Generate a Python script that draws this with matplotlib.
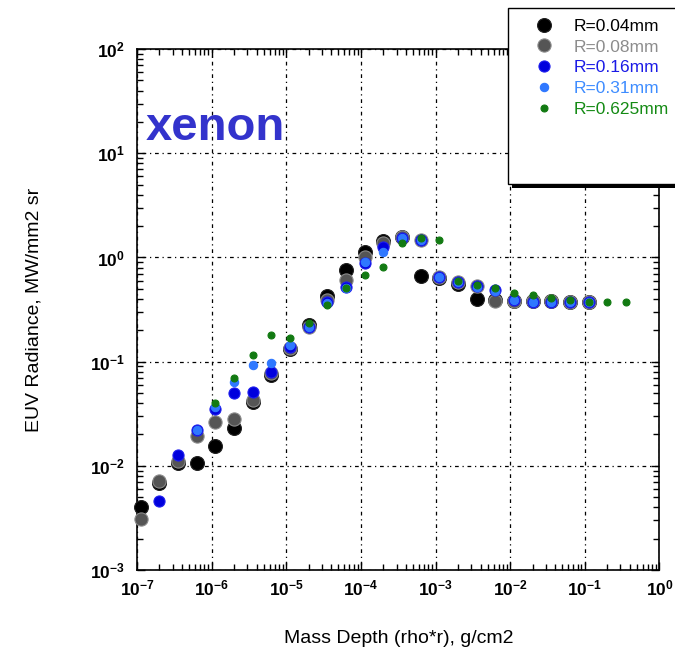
import numpy as np
import matplotlib
matplotlib.use('Agg')
import matplotlib.pyplot as plt
from matplotlib.patches import Rectangle
from matplotlib.ticker import LogLocator, FuncFormatter, NullFormatter

plt.rcParams['font.family'] = ['Liberation Sans', 'DejaVu Sans']
plt.rcParams['mathtext.fontset'] = 'custom'
plt.rcParams['mathtext.rm'] = 'Liberation Sans:bold'
plt.rcParams['mathtext.bf'] = 'Liberation Sans:bold'
plt.rcParams['mathtext.it'] = 'Liberation Sans:bold'

# mass depth (rho*r), g/cm2 -- common grid of the runs
mass_depth = [1.12e-7, 2.0e-7, 3.55e-7, 6.3e-7, 1.12e-6, 2.0e-6, 3.55e-6, 6.3e-6,
              1.12e-5, 2.0e-5, 3.55e-5, 6.3e-5, 1.12e-4, 2.0e-4, 3.55e-4, 6.3e-4,
              1.12e-3, 2.0e-3, 3.55e-3, 6.3e-3, 1.12e-2, 2.0e-2, 3.55e-2, 6.3e-2,
              1.12e-1, 2.0e-1, 3.55e-1]

# EUV radiance, MW/mm2 sr (first index into mass_depth, values)
r004_start = 0
r004 = [0.0040, 0.0068, 0.0106, 0.0106, 0.0155, 0.0231, 0.041, 0.074, 0.132, 0.224,
        0.427, 0.757, 1.13, 1.44, 1.57, 0.663, 0.634, 0.556, 0.399, 0.39,
        0.385, 0.38, 0.378, 0.375, 0.373]
r008_start = 0
r008 = [0.0031, 0.0071, 0.0111, 0.0193, 0.0263, 0.0281, 0.0428, 0.0778, 0.135, 0.215,
        0.39, 0.607, 1.01, 1.38, 1.57, 1.47, 0.649, 0.581, 0.532, 0.382,
        0.382, 0.38, 0.378, 0.375, 0.373]
r016_start = 1
r016 = [0.0046, 0.0127, 0.0221, 0.0351, 0.050, 0.0511, 0.0794, 0.138, 0.215,
        0.373, 0.520, 0.884, 1.26, 1.535, 1.47, 0.649, 0.581, 0.532, 0.486,
        0.39, 0.373, 0.373, 0.373, 0.373]
r031_start = 3
r031 = [0.0221, 0.0367, 0.0637, 0.0927, 0.097, 0.144, 0.215,
        0.365, 0.508, 0.904, 1.127, 1.535, 1.47, 0.649, 0.581, 0.52, 0.476,
        0.39, 0.373, 0.373, 0.373, 0.373]
r0625_start = 4
r0625 = [0.0401, 0.0697, 0.1156, 0.18, 0.168, 0.234,
         0.349, 0.508, 0.678, 0.809, 1.38, 1.535, 1.47, 0.594, 0.544, 0.508, 0.455,
         0.436, 0.408, 0.39, 0.373, 0.373, 0.373]

labels = ['R=0.04mm', 'R=0.08mm', 'R=0.16mm', 'R=0.31mm', 'R=0.625mm']

series = [
    (r004_start, r004, '#000000', '#222222', 10.0),
    (r008_start, r008, '#555555', '#8a8a8a', 9.5),
    (r016_start, r016, '#0000dd', '#2020ee', 8.0),
    (r031_start, r031, '#2f78ff', '#2f78ff', 6.0),
    (r0625_start, r0625, '#127a12', '#127a12', 5.0),
]
text_colors = ['#000000', '#8c8c8c', '#1a1ae6', '#3d8cff', '#138a13']

fig = plt.figure(figsize=(6.75, 6.59), dpi=100)
ax = fig.add_axes([0.203, 0.135, 0.774, 0.7905])

handles = []
for (start, vals, col, edge, ms), lab in zip(series, labels):
    xs = mass_depth[start:start + len(vals)]
    h, = ax.plot(xs, vals, 'o', ms=ms, color=col, mec=edge, mew=0.8,
                 linestyle='none', label=lab, zorder=3, clip_on=False)
    handles.append(h)

ax.set_xscale('log')
ax.set_yscale('log')
ax.set_xlim(1e-7, 1e0)
ax.set_ylim(1e-3, 1e2)

fmt = FuncFormatter(lambda v, pos: r'$\mathbf{10^{%d}}$' % int(round(np.log10(v))))
for axis in (ax.xaxis, ax.yaxis):
    axis.set_major_locator(LogLocator(base=10, numticks=20))
    axis.set_minor_locator(LogLocator(base=10, subs=np.arange(2, 10), numticks=20))
    axis.set_major_formatter(fmt)
    axis.set_minor_formatter(NullFormatter())

ax.tick_params(which='both', direction='in', top=True, right=True, width=1.0,
               labelsize=12.5, colors='black')
ax.tick_params(which='major', length=6)
ax.tick_params(which='minor', length=4)
ax.tick_params(axis='y', pad=9)
ax.tick_params(axis='x', pad=6)
for sp in ax.spines.values():
    sp.set_linewidth(1.2)

ax.grid(True, which='major', color='black', linestyle=(0, (1, 3, 3, 3)), linewidth=0.9)
ax.set_axisbelow(True)

ax.set_xlabel('Mass Depth (rho*r), g/cm2', fontsize=14, labelpad=23)
ax.set_ylabel('EUV Radiance, MW/mm2 sr', fontsize=14, labelpad=34)

ax.text(0.017, 0.825, 'xenon', transform=ax.transAxes, fontsize=34,
        fontweight='bold', color='#3333cc', va='baseline', ha='left', zorder=4)

# legend box with shadow
W, H = 675.0, 659.0
fig.add_artist(Rectangle((512 / W, 1 - 188 / H), 200 / W, 176 / H,
                         transform=fig.transFigure, facecolor='black',
                         edgecolor='none', zorder=5))
fig.add_artist(Rectangle((508 / W, 1 - 184 / H), 200 / W, 176 / H,
                         transform=fig.transFigure, facecolor='white',
                         edgecolor='black', linewidth=1.0, zorder=6))

leg = fig.legend(handles=handles, labels=labels, loc='upper left',
                 bbox_to_anchor=(525 / W, 1 - 10 / H), bbox_transform=fig.transFigure,
                 frameon=False, fontsize=12.5, labelcolor=text_colors,
                 handlelength=1.2, handletextpad=1.1, labelspacing=0.32,
                 borderpad=0, numpoints=1)
leg.set_zorder(7)

fig.savefig('out.png', dpi=100)
